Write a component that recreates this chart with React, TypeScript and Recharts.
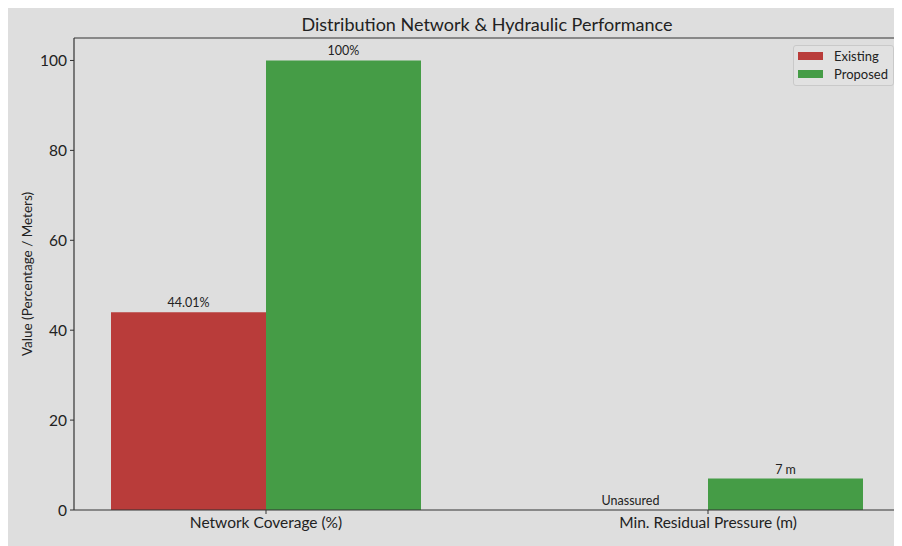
import React from 'react';
import { BarChart, Bar, XAxis, YAxis, Legend, LabelList, Label } from 'recharts';

const categories = ['Network Coverage (%)', 'Min. Residual Pressure (m)'];
const existingValues = [44.01, 0];
const proposedValues = [100, 7];
const existingLabels = ['44.01%', 'Unassured'];
const proposedLabels = ['100%', '7 m'];
const yTicks = [0, 20, 40, 60, 80, 100];

const FONT = 'Lato, "Open Sans", sans-serif';
const RED = '#b93c3a';
const GREEN = '#459c46';
const INK = '#222';
const SPINE = '#333';
const LABEL_SIZE = 12.5;

const data = categories.map((name, i) => ({
  name,
  existing: existingValues[i],
  proposed: proposedValues[i],
  existingLabel: existingLabels[i],
  proposedLabel: proposedLabels[i],
}));

function LegendBox() {
  const items = [
    { name: 'Existing', color: RED },
    { name: 'Proposed', color: GREEN },
  ];
  return (
    <div
      style={{
        width: 99,
        height: 39,
        border: '1px solid #c9c9c9',
        borderRadius: 3,
        background: 'rgba(226,226,226,0.85)',
        fontFamily: FONT,
        fontSize: 13,
        color: INK,
        position: 'relative',
      }}
    >
      {items.map((it, i) => (
        <div key={it.name} style={{ position: 'absolute', left: 0, top: 2 + i * 18, height: 18, width: 99 }}>
          <span
            style={{
              position: 'absolute',
              left: 4,
              top: 4,
              width: 25,
              height: 8,
              background: it.color,
            }}
          />
          <span style={{ position: 'absolute', left: 40, top: 0, lineHeight: '16px' }}>{it.name}</span>
        </div>
      ))}
    </div>
  );
}

// bars with zero height get no label of their own, so the existing-value
// label for those is drawn alongside the proposed bar, one bar-width to the left
function ZeroExistingLabel(props: any) {
  const { x, y, width, height, index } = props;
  if (existingValues[index] !== 0) return null;
  return (
    <text
      x={x - width / 2}
      y={y + height - 5}
      textAnchor="middle"
      fill={INK}
      fontSize={LABEL_SIZE}
      fontFamily={FONT}
    >
      {existingLabels[index]}
    </text>
  );
}

export default function App() {
  return (
    <div style={{ width: 894, height: 541, background: '#dedede', marginTop: -3, position: 'relative' }}>
      <div
        style={{
          position: 'absolute',
          top: 8,
          left: 66,
          width: 826,
          textAlign: 'center',
          fontFamily: FONT,
          fontSize: 18,
          color: INK,
        }}
      >
        Distribution Network &amp; Hydraulic Performance
      </div>
      <BarChart
        width={894}
        height={541}
        data={data}
        margin={{ top: 32, right: 1, bottom: 0, left: 0 }}
        barGap={0}
        style={{ fontFamily: FONT }}
      >
        <XAxis
          dataKey="name"
          height={36}
          padding={{ left: -29, right: -29 }}
          axisLine={{ stroke: SPINE, strokeWidth: 1.2 }}
          tickLine={{ stroke: SPINE }}
          tickSize={4}
          tickMargin={3}
          tick={{ fill: INK, fontSize: 15.5 }}
          interval={0}
        />
        <XAxis
          xAxisId="top"
          dataKey="name"
          orientation="top"
          height={1}
          padding={{ left: -29, right: -29 }}
          tick={false}
          tickLine={false}
          axisLine={{ stroke: SPINE, strokeWidth: 1.2 }}
        />
        <YAxis
          width={66}
          domain={[0, 105]}
          ticks={yTicks}
          axisLine={{ stroke: SPINE, strokeWidth: 1.2 }}
          tickLine={{ stroke: SPINE }}
          tickSize={4}
          tickMargin={3}
          tick={{ fill: INK, fontSize: 15.5 }}
        >
          <Label
            value="Value (Percentage / Meters)"
            angle={-90}
            position="center"
            dx={-14}
            style={{ fill: INK, fontSize: 13.5, fontFamily: FONT }}
          />
        </YAxis>
        <YAxis
          yAxisId="right"
          orientation="right"
          width={1}
          domain={[0, 105]}
          tick={false}
          tickLine={false}
          axisLine={{ stroke: SPINE, strokeWidth: 1.2 }}
        />
        <Legend
          verticalAlign="middle"
          align="center"
          layout="horizontal"
          wrapperStyle={{ top: 40, right: 8, left: 'auto', bottom: 'auto', width: 'auto' }}
          content={() => <LegendBox />}
        />
        <Bar dataKey="existing" name="Existing" fill={RED} barSize={155} isAnimationActive={false}>
          <LabelList dataKey="existingLabel" position="top" fill={INK} fontSize={LABEL_SIZE} />
        </Bar>
        <Bar dataKey="proposed" name="Proposed" fill={GREEN} barSize={155} isAnimationActive={false}>
          <LabelList dataKey="proposedLabel" position="top" fill={INK} fontSize={LABEL_SIZE} />
          <LabelList dataKey="existingLabel" content={ZeroExistingLabel} />
        </Bar>
      </BarChart>
    </div>
  );
}
